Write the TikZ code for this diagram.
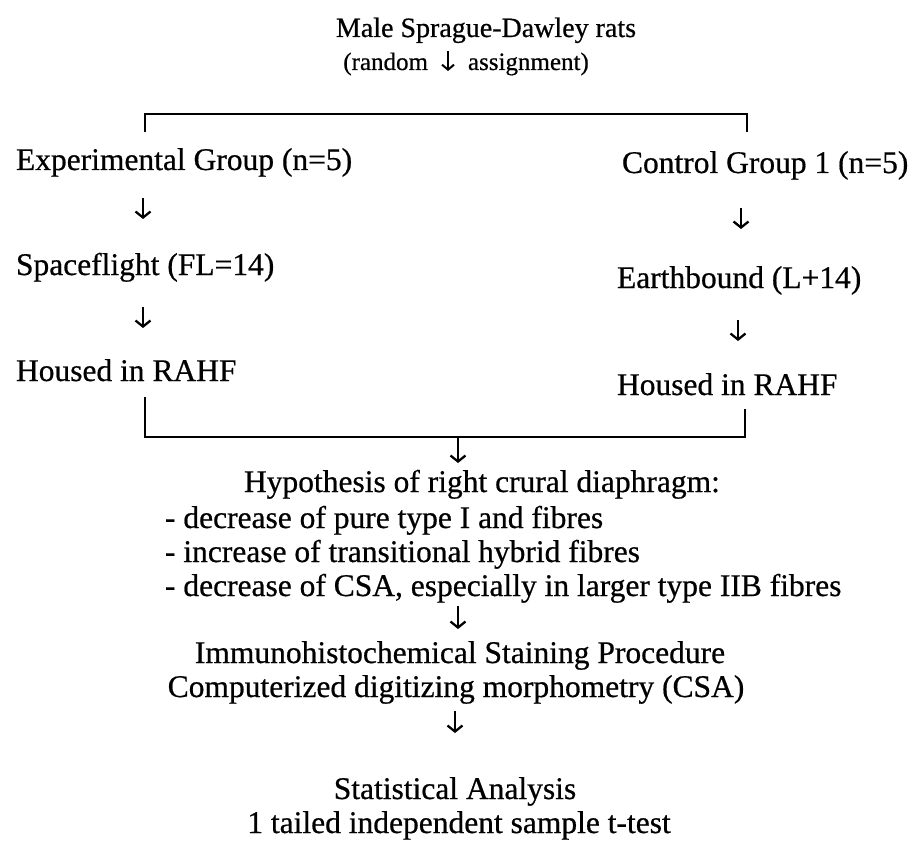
\documentclass[tikz,border=0pt]{standalone}
\usepackage{fontspec}
\setmainfont{Liberation Serif}[FakeBold=0.6]
\usetikzlibrary{arrows.meta}
\begin{document}
\begin{tikzpicture}[x=1pt,y=1pt,
  txt/.style={inner sep=0pt,outer sep=0pt,font=\fontsize{31.5}{36}\selectfont},
  ttl/.style={inner sep=0pt,outer sep=0pt,font=\fontsize{28}{32}\selectfont},
  small/.style={inner sep=0pt,outer sep=0pt,font=\fontsize{25}{28}\selectfont},
  dnarrow/.style={line width=2.3pt,-{Straight Barb[length=6pt,width=15pt,line width=2.3pt]}},
  dnsmall/.style={line width=2pt,-{Straight Barb[length=5pt,width=12pt,line width=2pt]}},
  brk/.style={line width=2.4pt,line join=miter,line cap=rect}]
\useasboundingbox (0,0) rectangle (922,-864);
% top
\node[ttl,anchor=base] (title) at (486,-37) {Male Sprague-Dawley rats};
\node[small,anchor=base east] (rand) at (428,-70) {(random};
\node[small,anchor=base west] (assign) at (468,-70) {assignment)};
\coordinate (s0) at (448,-51);
\coordinate (s1) at (448,-71);
\draw[dnsmall] (s0) -- (s1);
% groups
\node[txt,anchor=base west] (exp) at (16,-170) {Experimental Group (n=5)};
\node[txt,anchor=base west] (ctrl) at (622,-173) {Control Group 1 (n=5)};
\coordinate (tl) at (145,-114);
\coordinate (tr) at (747,-114);
\draw[brk] ([yshift=-17pt]tl) -- (tl) -- (tr) -- ([yshift=-17pt]tr);
% left column
\node[txt,anchor=base west] (space) at (16,-275) {Spaceflight (FL=14)};
\node[txt,anchor=base west] (houseL) at (16,-381) {Housed in RAHF};
\coordinate (a1t) at (143,-198); \coordinate (a1b) at (143,-219);
\coordinate (a2t) at (143,-307); \coordinate (a2b) at (143,-328);
\draw[dnarrow] (a1t) -- (a1b);
\draw[dnarrow] (a2t) -- (a2b);
% right column
\node[txt,anchor=base west] (earth) at (617,-288) {Earthbound (L+14)};
\node[txt,anchor=base west] (houseR) at (617,-395) {Housed in RAHF};
\coordinate (b1t) at (741,-208); \coordinate (b1b) at (741,-229);
\coordinate (b2t) at (738,-320); \coordinate (b2b) at (738,-341);
\draw[dnarrow] (b1t) -- (b1b);
\draw[dnarrow] (b2t) -- (b2b);
% bottom bracket
\coordinate (bl) at (145,-437);
\coordinate (br) at (745,-437);
\draw[brk] (145,-398) -- (bl) -- (br) -- (745,-410);
\coordinate (c1t) at (458,-438); \coordinate (c1b) at (458,-463);
\draw[dnarrow] (c1t) -- (c1b);
% hypothesis
\node[txt,anchor=base west] (hyp) at (244,-492) {Hypothesis of right crural diaphragm:};
\node[txt,anchor=base west] (h1) at (165,-528) {- decrease of pure type I and fibres};
\node[txt,anchor=base west] (h2) at (165,-562) {- increase of transitional hybrid fibres};
\node[txt,anchor=base west] (h3) at (165,-596) {- decrease of CSA, especially in larger type IIB fibres};
\coordinate (c2t) at (458,-606); \coordinate (c2b) at (458,-629);
\draw[dnarrow] (c2t) -- (c2b);
\node[txt,anchor=base] (immu) at (460,-663) {Immunohistochemical Staining Procedure};
\node[txt,anchor=base] (comp) at (456,-697) {Computerized digitizing morphometry (CSA)};
\coordinate (c3t) at (455,-711); \coordinate (c3b) at (455,-733);
\draw[dnarrow] (c3t) -- (c3b);
\node[txt,anchor=base] (stat) at (455,-799) {Statistical Analysis};
\node[txt,anchor=base] (ttest) at (459,-833) {1 tailed independent sample t-test};
\end{tikzpicture}
\end{document}
